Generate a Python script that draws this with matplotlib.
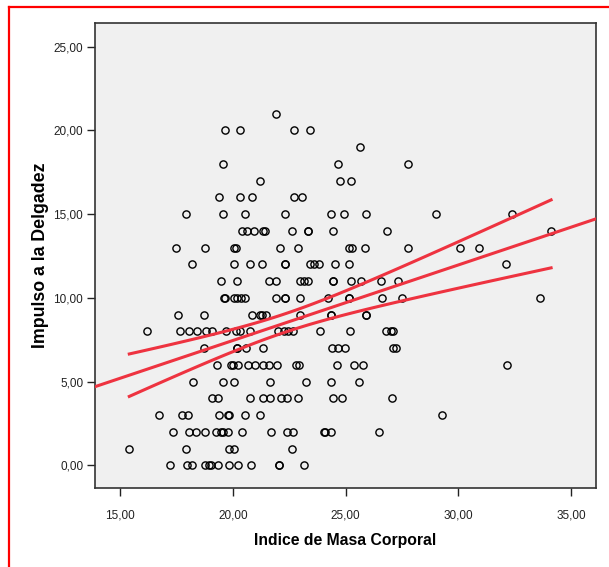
import numpy as np
import matplotlib
matplotlib.use("Agg")
import matplotlib.pyplot as plt
from matplotlib.lines import Line2D

# Indice de Masa Corporal values, grouped by Impulso a la Delgadez score
imc_por_impulso = {
    21: [21.92],
    20: [19.64, 20.34, 22.70, 23.41],
    19: [25.63],
    18: [19.57, 24.68, 27.76],
    17: [21.22, 24.76, 25.23],
    16: [19.38, 20.34, 20.83, 22.73, 23.08],
    15: [17.94, 19.57, 20.56, 22.32, 24.37, 24.92, 25.90, 29.00, 32.37],
    14: [20.42, 20.65, 20.94, 21.33, 21.43, 22.64, 23.35, 23.35, 24.45, 26.83, 34.11],
    13: [17.47, 18.78, 20.06, 20.15, 22.10, 22.88, 25.13, 25.30, 25.86, 27.77, 30.08, 30.93],
    12: [18.19, 20.06, 20.74, 21.28, 22.33, 22.33, 23.41, 23.60, 23.81, 24.55, 25.15, 32.13],
    11: [19.48, 20.19, 21.61, 21.90, 22.99, 23.17, 23.35, 24.45, 24.45, 25.22, 25.67, 26.56, 27.31],
    10: [19.60, 19.66, 20.06, 20.19, 20.35, 20.56, 21.92, 22.30, 22.30, 22.99, 24.21, 25.15, 25.15,
         26.62, 27.52, 33.64],
    9: [17.57, 18.72, 20.85, 21.21, 21.31, 21.46, 22.99, 24.37, 24.37, 25.92, 25.92],
    8: [16.21, 17.67, 18.06, 18.41, 18.80, 19.08, 19.69, 20.15, 20.32, 20.75, 21.99, 22.29, 22.44,
        22.67, 23.85, 25.18, 26.78, 27.00, 27.12],
    7: [18.70, 20.19, 20.19, 20.57, 21.34, 24.39, 24.67, 24.98, 27.09, 27.23],
    6: [19.30, 19.91, 20.02, 20.25, 20.69, 20.99, 21.33, 21.61, 21.95, 22.82, 22.94, 24.61, 25.39,
        25.79, 32.16],
    5: [18.22, 19.55, 20.06, 21.66, 23.23, 24.37, 25.58],
    4: [19.09, 19.36, 20.75, 21.34, 21.64, 22.15, 22.41, 22.87, 24.43, 24.86, 27.05],
    3: [16.74, 17.75, 18.03, 19.39, 19.79, 19.82, 20.52, 21.22, 29.28],
    2: [17.33, 18.05, 18.37, 18.78, 19.26, 19.49, 19.55, 19.80, 20.41, 21.68, 22.39, 22.66, 24.02,
        24.09, 24.36, 26.47],
    1: [15.41, 17.94, 19.82, 20.06, 22.64],
    0: [17.23, 17.96, 18.21, 18.77, 18.95, 19.02, 19.36, 19.82, 20.22, 20.79, 22.05, 22.05, 23.14],
}

# many markers overlap, the sample behind the fit is larger than the visible circles
casos_totales = 310

x_ticks = [15, 20, 25, 30, 35]
y_ticks = [0, 5, 10, 15, 20, 25]

x = np.array([v for k in imc_por_impulso for v in imc_por_impulso[k]])
y = np.array([k for k in imc_por_impulso for v in imc_por_impulso[k]], dtype=float)

# linear fit + 95% confidence band of the mean
slope, intercept = np.polyfit(x, y, 1)
n = len(x)
resid = y - (intercept + slope * x)
s = np.sqrt(np.sum(resid ** 2) / (n - 2))
sxx = np.sum((x - x.mean()) ** 2) * casos_totales / n
t_crit = 1.97

fig = plt.figure(figsize=(6.09, 5.67), dpi=100)
ax = fig.add_axes([0.156, 0.139, 0.823, 0.820])
ax.set_facecolor('#F0F0F0')

ax.plot(x, y, 'o', mfc='none', mec='black', mew=1.0, ms=5.2, zorder=3)

red = '#EE3340'
xl = np.array([13.89, 36.11])
ax.plot(xl, intercept + slope * xl, color=red, lw=2.2, zorder=4)
xb = np.linspace(x.min(), x.max(), 100)
half = t_crit * s * np.sqrt(1 / casos_totales + (xb - x.mean()) ** 2 / sxx)
ax.plot(xb, intercept + slope * xb + half, color=red, lw=2.2, zorder=4)
ax.plot(xb, intercept + slope * xb - half, color=red, lw=2.2, zorder=4)

ax.set_xlim(13.89, 36.11)
ax.set_ylim(-1.36, 26.4)
ax.set_xticks(x_ticks)
ax.set_yticks(y_ticks)
ax.set_xticklabels([('%.2f' % t).replace('.', ',') for t in x_ticks])
ax.set_yticklabels([('%.2f' % t).replace('.', ',') for t in y_ticks])
ax.tick_params(axis='x', length=5.5, width=1, pad=10, labelsize=8.5, colors='#222222')
ax.tick_params(axis='y', length=5.5, width=1, pad=3, labelsize=8.5, colors='#222222')
for lab in ax.get_xticklabels() + ax.get_yticklabels():
    lab.set_family(['Liberation Sans', 'DejaVu Sans'])
for sp in ax.spines.values():
    sp.set_color('#333333')
    sp.set_linewidth(1.2)

ax.set_xlabel('Indice de Masa Corporal', labelpad=8, family=['Liberation Sans', 'DejaVu Sans'],
              fontweight='bold', fontsize=11.3)
ax.set_ylabel('Impulso a la Delgadez', labelpad=3.5, family=['Liberation Sans', 'DejaVu Sans'],
              fontweight='bold', fontsize=12.8)

# red frame (top and left edges)
fig.add_artist(Line2D([0.0145, 0.0145], [0.0, 0.988], color='#FF0000', lw=1.6,
                      transform=fig.transFigure))
fig.add_artist(Line2D([0.0145, 1.0], [0.988, 0.988], color='#FF0000', lw=1.6,
                      transform=fig.transFigure))

fig.savefig('out.png', dpi=100)
